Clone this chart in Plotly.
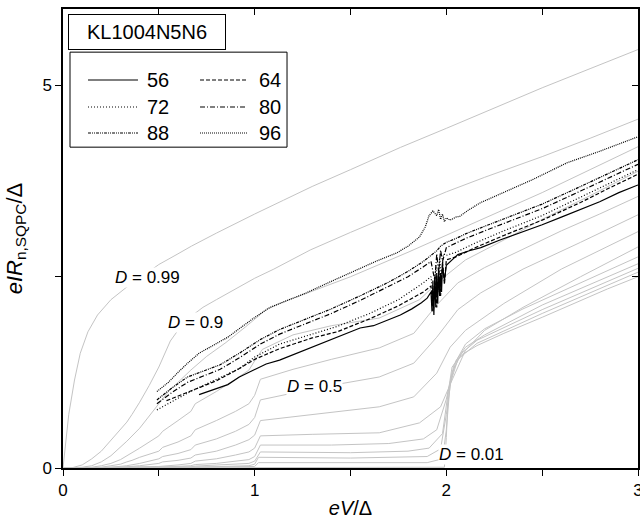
import plotly.graph_objects as go

# ---------------- data ----------------
# theory curves (gray), labelled by transmission D
g099_x = [0, 0.01, 0.03, 0.06, 0.09, 0.13, 0.18, 0.25, 0.33, 0.4, 0.5, 0.6, 0.67, 0.8, 0.94, 1.0, 1.15, 1.3, 1.5, 1.76, 2.0, 2.25, 2.5, 2.75, 3.0]
g099_y = [0, 0.25, 0.7, 1.15, 1.5, 1.78, 2.0, 2.2, 2.36, 2.48, 2.66, 2.8, 2.9, 3.07, 3.25, 3.32, 3.5, 3.68, 3.9, 4.19, 4.44, 4.71, 4.97, 5.22, 5.47]
g09_x = [0, 0.05, 0.1, 0.15, 0.2, 0.25, 0.3, 0.333, 0.36, 0.4, 0.45, 0.5, 0.56, 0.6, 0.667, 0.73, 0.8, 0.9, 1.0, 1.1, 1.29, 1.5, 1.8, 2.0, 2.2, 2.5, 2.75, 3.0]
g09_y = [0, 0.005, 0.04, 0.12, 0.22, 0.36, 0.5, 0.6, 0.7, 0.86, 1.08, 1.32, 1.66, 1.8, 1.98, 2.1, 2.2, 2.34, 2.48, 2.6, 2.85, 3.08, 3.4, 3.61, 3.8, 4.07, 4.31, 4.56]
g08_x = [0, 0.1, 0.15, 0.2, 0.25, 0.3, 0.333, 0.4, 0.45, 0.5, 0.55, 0.6, 0.667, 0.75, 0.85, 0.95, 1.0, 1.06, 1.15, 1.29, 1.5, 1.8, 2.0, 2.16, 2.5, 2.75, 3.0]
g08_y = [0, 0.01, 0.03, 0.08, 0.16, 0.27, 0.35, 0.52, 0.68, 0.85, 1.0, 1.12, 1.28, 1.46, 1.64, 1.84, 1.95, 2.07, 2.17, 2.3, 2.5, 2.82, 3.04, 3.22, 3.6, 3.9, 4.2]
g07_x = [0, 0.15, 0.2, 0.25, 0.3, 0.333, 0.36, 0.4, 0.5, 0.52, 0.6, 0.667, 0.69, 0.8, 0.9, 0.97, 1.0, 1.04, 1.2, 1.4, 1.65, 1.86, 1.97, 2.1, 2.3, 2.5, 2.75, 3.0]
g07_y = [0, 0.01, 0.03, 0.06, 0.11, 0.16, 0.19, 0.26, 0.42, 0.48, 0.62, 0.74, 0.84, 1.0, 1.16, 1.28, 1.4, 1.55, 1.74, 1.86, 1.96, 2.2, 2.46, 2.72, 2.98, 3.25, 3.56, 3.88]
g06_x = [0, 0.2, 0.25, 0.3, 0.333, 0.36, 0.4, 0.5, 0.52, 0.6, 0.667, 0.69, 0.8, 0.9, 0.97, 1.0, 1.03, 1.2, 1.4, 1.65, 1.83, 1.95, 2.06, 2.2, 2.4, 2.6, 2.8, 3.0]
g06_y = [0, 0.01, 0.03, 0.05, 0.08, 0.1, 0.14, 0.22, 0.27, 0.34, 0.42, 0.5, 0.62, 0.74, 0.84, 0.95, 1.16, 1.29, 1.42, 1.57, 1.76, 2.13, 2.42, 2.62, 2.86, 3.1, 3.32, 3.55]
g05_x = [0, 0.25, 0.333, 0.4, 0.5, 0.52, 0.6, 0.667, 0.69, 0.8, 0.9, 0.97, 1.0, 1.03, 1.2, 1.4, 1.65, 1.83, 1.95, 2.06, 2.18, 2.4, 2.7, 3.0]
g05_y = [0, 0.01, 0.03, 0.06, 0.12, 0.15, 0.19, 0.24, 0.3, 0.38, 0.48, 0.57, 0.66, 0.89, 0.98, 1.08, 1.19, 1.37, 1.71, 2.07, 2.29, 2.6, 2.95, 3.31]
g04_x = [0, 0.3, 0.4, 0.5, 0.52, 0.6, 0.667, 0.69, 0.8, 0.9, 0.97, 1.0, 1.03, 1.2, 1.4, 1.65, 1.83, 1.95, 2.02, 2.1, 2.3, 2.6, 3.0]
g04_y = [0, 0.01, 0.03, 0.06, 0.08, 0.1, 0.13, 0.17, 0.22, 0.3, 0.37, 0.43, 0.62, 0.67, 0.73, 0.8, 0.93, 1.24, 1.58, 1.8, 2.15, 2.6, 3.09]
g03_x = [0, 0.4, 0.5, 0.6, 0.667, 0.69, 0.8, 0.9, 0.97, 1.0, 1.03, 1.3, 1.65, 1.86, 1.97, 2.03, 2.1, 2.2, 2.4, 2.7, 3.0]
g03_y = [0, 0.01, 0.02, 0.04, 0.06, 0.09, 0.12, 0.17, 0.21, 0.26, 0.42, 0.44, 0.46, 0.59, 0.8, 1.15, 1.54, 1.8, 2.1, 2.5, 2.89]
g02_x = [0, 0.5, 0.667, 0.69, 0.8, 0.9, 0.97, 1.0, 1.03, 1.4, 1.7, 1.88, 1.95, 2.0, 2.04, 2.1, 2.2, 2.4, 2.7, 3.0]
g02_y = [0, 0.01, 0.03, 0.045, 0.06, 0.09, 0.11, 0.15, 0.3, 0.3, 0.32, 0.38, 0.5, 0.9, 1.35, 1.62, 1.82, 2.08, 2.42, 2.76]
g015_x = [0, 0.6, 0.667, 0.69, 0.8, 0.97, 1.0, 1.03, 1.5, 1.8, 1.91, 1.98, 2.01, 2.05, 2.1, 2.2, 2.5, 3.0]
g015_y = [0, 0.01, 0.015, 0.025, 0.035, 0.06, 0.09, 0.21, 0.2, 0.22, 0.26, 0.45, 1.0, 1.4, 1.58, 1.74, 2.13, 2.67]
g01_x = [0, 0.667, 0.69, 0.97, 1.0, 1.02, 1.5, 1.9, 1.97, 2.0, 2.03, 2.08, 2.16, 2.5, 3.0]
g01_y = [0, 0.005, 0.01, 0.03, 0.05, 0.14, 0.13, 0.15, 0.25, 0.7, 1.25, 1.5, 1.67, 2.07, 2.61]
g005_x = [0, 0.97, 1.0, 1.02, 1.9, 1.98, 2.0, 2.02, 2.06, 2.16, 2.5, 3.0]
g005_y = [0, 0.01, 0.02, 0.07, 0.07, 0.12, 0.5, 1.1, 1.42, 1.63, 2.02, 2.56]
g001_x = [0, 1.99, 2.0, 2.01, 2.03, 2.08, 2.16, 2.3, 2.5, 2.84, 3.0]
g001_y = [0, 0.01, 0.4, 1.0, 1.32, 1.48, 1.6, 1.76, 1.97, 2.34, 2.5]

theory_x = [g099_x, g09_x, g08_x, g07_x, g06_x, g05_x, g04_x, g03_x, g02_x, g015_x, g01_x, g005_x, g001_x]
theory_y = [g099_y, g09_y, g08_y, g07_y, g06_y, g05_y, g04_y, g03_y, g02_y, g015_y, g01_y, g005_y, g001_y]

# measured curves (black)
m56_x = [0.71, 0.78, 0.86, 0.92, 0.99, 1.06, 1.13, 1.25, 1.36, 1.45, 1.55, 1.62, 1.68, 1.76, 1.82, 1.87, 1.9, 1.92, 1.925, 1.93, 1.935, 1.94, 1.945, 1.95, 1.955, 1.96, 1.965, 1.97, 1.975, 1.98, 1.99, 2.0, 2.03, 2.06, 2.12, 2.18, 2.28, 2.38, 2.5, 2.6, 2.7, 2.8, 2.9, 3.0]
m56_y = [0.96, 1.02, 1.09, 1.19, 1.28, 1.36, 1.41, 1.53, 1.64, 1.72, 1.83, 1.86, 1.92, 2.0, 2.08, 2.16, 2.22, 2.3, 2.05, 2.45, 2.0, 2.5, 2.1, 2.55, 2.15, 2.6, 2.25, 2.55, 2.3, 2.65, 2.45, 2.65, 2.72, 2.79, 2.84, 2.88, 2.98, 3.07, 3.18, 3.28, 3.38, 3.48, 3.6, 3.7]
m64_x = [0.54, 0.6, 0.7, 0.8, 0.92, 1.0, 1.13, 1.3, 1.43, 1.6, 1.75, 1.88, 1.92, 1.93, 1.94, 1.95, 1.96, 1.97, 1.98, 1.99, 2.0, 2.05, 2.15, 2.3, 2.5, 2.7, 2.85, 3.0]
m64_y = [0.88, 0.94, 1.03, 1.14, 1.3, 1.42, 1.56, 1.7, 1.78, 1.95, 2.12, 2.3, 2.38, 2.05, 2.5, 2.1, 2.6, 2.25, 2.7, 2.4, 2.72, 2.76, 2.88, 3.04, 3.24, 3.47, 3.66, 3.84]
m72_x = [0.49, 0.56, 0.65, 0.75, 0.85, 0.92, 1.0, 1.13, 1.3, 1.43, 1.6, 1.75, 1.88, 1.92, 1.935, 1.945, 1.955, 1.965, 1.975, 1.985, 2.0, 2.05, 2.15, 2.3, 2.5, 2.7, 2.85, 3.0]
m72_y = [0.76, 0.86, 0.98, 1.1, 1.22, 1.3, 1.45, 1.62, 1.75, 1.85, 2.02, 2.2, 2.42, 2.5, 2.2, 2.65, 2.3, 2.75, 2.5, 2.8, 2.78, 2.82, 2.94, 3.1, 3.3, 3.54, 3.72, 3.9]
m80_x = [0.49, 0.57, 0.65, 0.73, 0.82, 0.92, 1.03, 1.13, 1.25, 1.4, 1.55, 1.7, 1.8, 1.88, 1.92, 1.94, 1.95, 1.96, 1.97, 1.98, 2.0, 2.05, 2.1, 2.2, 2.35, 2.5, 2.7, 2.85, 3.0]
m80_y = [0.84, 0.99, 1.12, 1.2, 1.29, 1.44, 1.62, 1.75, 1.87, 2.02, 2.19, 2.37, 2.5, 2.63, 2.7, 2.45, 2.8, 2.55, 2.85, 2.7, 2.88, 2.94, 3.0, 3.1, 3.24, 3.39, 3.62, 3.79, 3.97]
m88_x = [0.49, 0.57, 0.65, 0.73, 0.82, 0.92, 1.03, 1.13, 1.25, 1.4, 1.55, 1.7, 1.8, 1.88, 1.92, 1.95, 1.97, 2.0, 2.05, 2.1, 2.2, 2.35, 2.5, 2.7, 2.85, 3.0]
m88_y = [0.89, 1.05, 1.19, 1.27, 1.35, 1.5, 1.68, 1.81, 1.93, 2.08, 2.25, 2.43, 2.57, 2.7, 2.78, 2.84, 2.9, 2.95, 3.0, 3.06, 3.16, 3.3, 3.45, 3.68, 3.85, 4.03]
m96_x = [0.49, 0.55, 0.6, 0.65, 0.71, 0.78, 0.86, 0.93, 0.99, 1.08, 1.18, 1.27, 1.4, 1.53, 1.64, 1.74, 1.8, 1.86, 1.89, 1.91, 1.93, 1.95, 1.96, 1.97, 1.98, 1.99, 2.0, 2.02, 2.05, 2.07, 2.12, 2.18, 2.26, 2.35, 2.45, 2.63, 2.8, 3.0]
m96_y = [1.0, 1.12, 1.25, 1.37, 1.5, 1.6, 1.71, 1.84, 1.95, 2.1, 2.2, 2.29, 2.44, 2.59, 2.71, 2.81, 2.9, 3.02, 3.15, 3.3, 3.36, 3.3, 3.38, 3.25, 3.32, 3.22, 3.27, 3.24, 3.28, 3.29, 3.38, 3.47, 3.56, 3.66, 3.77, 3.99, 4.14, 4.33]

meas_names = ["56", "64", "72", "80", "88", "96"]
meas_x = [m56_x, m64_x, m72_x, m80_x, m88_x, m96_x]
meas_y = [m56_y, m64_y, m72_y, m80_y, m88_y, m96_y]

# labels of theory curves
label_text = ["<i>D</i> = 0.99", "<i>D</i> = 0.9", "<i>D</i> = 0.5", "<i>D</i> = 0.01"]
label_x = [0.44, 0.69, 1.31, 2.13]
label_y = [2.49, 1.9, 1.06, 0.18]

x_ticks = [0, 0.5, 1, 1.5, 2, 2.5, 3]
x_ticktext = ["0", "", "1", "", "2", "", "3"]
y_ticks = [0, 2.5, 5]
y_ticktext = ["0", "", "5"]

# ---------------- styles ----------------
FONT = "Liberation Sans, Arial, sans-serif"
dashes = ["solid", "4px,2px", "1px,2px", "5px,2px,1px,2px", "3px,1px,1px,1px,1px,1px", "1px,1px"]

fig = go.Figure()
for tx, ty in zip(theory_x, theory_y):
    fig.add_trace(go.Scatter(x=tx, y=ty, mode="lines",
                             line=dict(color="#c4c4c4", width=1),
                             showlegend=False, hoverinfo="skip"))
for name, mx, my, d in zip(meas_names, meas_x, meas_y, dashes):
    fig.add_trace(go.Scatter(x=mx, y=my, mode="lines", name=name,
                             line=dict(color="black", width=1.2, dash=d),
                             showlegend=False))
# dummy trace for mirrored axes
fig.add_trace(go.Scatter(x=[None], y=[None], xaxis="x2", yaxis="y2",
                         showlegend=False, hoverinfo="skip"))

for t, lx, ly in zip(label_text, label_x, label_y):
    fig.add_annotation(x=lx, y=ly, xref="x", yref="y", text=t, showarrow=False,
                       xanchor="center", yanchor="middle",
                       font=dict(family=FONT, size=17, color="black"),
                       bgcolor="white", borderpad=0)

# legend (drawn manually: title box + two-column key box)
fig.add_annotation(x=0.146, y=0.95, xref="paper", yref="paper", text="KL1004N5N6",
                   showarrow=False, xanchor="center", yanchor="middle",
                   font=dict(family=FONT, size=20, color="black"),
                   bordercolor="black", borderwidth=1, borderpad=3, bgcolor="white",
                   width=150, height=28)
fig.add_shape(type="rect", xref="paper", yref="paper", x0=0.0122, x1=0.3896,
              y0=0.699, y1=0.906, line=dict(color="black", width=1),
              fillcolor="white", layer="above")
row_y = [0.8453, 0.8453, 0.7865, 0.7865, 0.7298, 0.7298]
col_x0 = [0.0435, 0.2383] * 3
col_x1 = [0.1304, 0.3200] * 3
col_tx = [0.1426, 0.3374] * 3
for name, d, ry, x0, x1, tx in zip(meas_names, dashes, row_y, col_x0, col_x1, col_tx):
    fig.add_shape(type="line", xref="paper", yref="paper", x0=x0, x1=x1, y0=ry, y1=ry,
                  line=dict(color="black", width=1.2, dash=d), layer="above")
    fig.add_annotation(x=tx, y=ry, xref="paper", yref="paper", text=name, showarrow=False,
                       xanchor="left", yanchor="middle",
                       font=dict(family=FONT, size=20, color="black"))

axis_common = dict(showgrid=False, zeroline=False, showline=True, linecolor="black",
                   linewidth=1.5, ticklen=6, tickwidth=1.2, tickcolor="black",
                   automargin=False)
fig.update_layout(
    width=640, height=521,
    margin=dict(l=63, r=2, t=9, b=53),
    paper_bgcolor="white", plot_bgcolor="white",
    font=dict(family=FONT, size=16, color="black"),
    xaxis=dict(range=[0, 3], tickvals=x_ticks, ticktext=x_ticktext, ticks="outside",
               mirror=True, ticklabeloverflow="allow",
               title=dict(text="<i>eV</i>/Δ", font=dict(size=20), standoff=2),
               tickfont=dict(size=17), **axis_common),
    yaxis=dict(range=[0, 6], tickvals=y_ticks, ticktext=y_ticktext, ticks="outside",
               mirror=True, title=dict(text="<i>eIR</i><sub>n,SQPC</sub>/Δ", font=dict(size=22), standoff=14),
               tickfont=dict(size=17), **axis_common),
    xaxis2=dict(range=[0, 3], overlaying="x", anchor="y", side="top", tickvals=x_ticks,
                showticklabels=False, ticks="inside", **axis_common),
    yaxis2=dict(range=[0, 6], overlaying="y", anchor="x", side="right", tickvals=y_ticks,
                showticklabels=False, ticks="inside", **axis_common),
)

fig.write_html("out.html", config={"displayModeBar": False},
               post_script="document.body.style.margin='0';document.body.style.overflow='hidden';")
